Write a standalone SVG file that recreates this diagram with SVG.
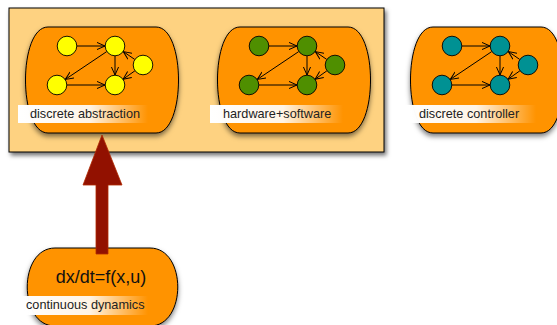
<svg xmlns="http://www.w3.org/2000/svg" xmlns:xlink="http://www.w3.org/1999/xlink" width="557" height="325" viewBox="0 0 557 325">
<style>
.frame{fill:#FED281;stroke:#000;stroke-width:1}
.node{fill:#FF9300;stroke:#000;stroke-width:1}
.dot{stroke:#000;stroke-width:0.9}
.edge{stroke:#000;stroke-width:1;fill:none;marker-end:url(#open)}
.lbl{font-family:"Liberation Sans",Arial,sans-serif;font-size:12.7px;fill:#222}
.big{font-family:"Liberation Sans",Arial,sans-serif;font-size:18px;fill:#111}
</style>
<defs>
<filter id="sh" x="-10%" y="-10%" width="130%" height="140%">
<feDropShadow dx="2" dy="3" stdDeviation="2" flood-color="#000" flood-opacity="0.55"/>
</filter>
<filter id="shn" x="-10%" y="-10%" width="130%" height="140%">
<feDropShadow dx="0" dy="3" stdDeviation="2.5" flood-color="#000" flood-opacity="0.5"/>
</filter>
<linearGradient id="fade" x1="0" y1="0" x2="1" y2="0">
<stop offset="0" stop-color="#fff" stop-opacity="1"/>
<stop offset="0.55" stop-color="#fff" stop-opacity="0.9"/>
<stop offset="1" stop-color="#fff" stop-opacity="0"/>
</linearGradient>
<marker id="open" viewBox="0 0 10 10" refX="9" refY="5" markerWidth="9" markerHeight="9" markerUnits="userSpaceOnUse" orient="auto">
<path d="M0,1 L9,5 L0,9" fill="none" stroke="#000" stroke-width="1.1"/>
</marker>
<path id="blob" d="M48 27 H156 C186 27 186 133 156 133 H48 C18 133 18 27 48 27 Z"/>
<g id="mini">
<line class="edge" x1="77" y1="46" x2="105" y2="46"/>
<line class="edge" x1="115" y1="56" x2="115" y2="75"/>
<line class="edge" x1="106.7" y1="51.6" x2="65.3" y2="79.4"/>
<line class="edge" x1="67" y1="85" x2="105" y2="85"/>
<line class="edge" x1="134.7" y1="59.4" x2="123.3" y2="51.6"/>
<line class="edge" x1="134.9" y1="70.8" x2="123.1" y2="79.2"/>
<circle class="dot" cx="67" cy="46" r="9.8"/>
<circle class="dot" cx="115" cy="46" r="9.8"/>
<circle class="dot" cx="143" cy="65" r="9.8"/>
<circle class="dot" cx="57" cy="85" r="9.8"/>
<circle class="dot" cx="115" cy="85" r="9.8"/>
</g>
</defs>

<g id="system-frame">
<rect class="frame" x="9" y="8" width="375" height="144" filter="url(#sh)"/>
</g>

<g id="discrete-abstraction">
<use xlink:href="#blob" class="node" filter="url(#shn)"/>
<use xlink:href="#mini" fill="#FFFF00"/>
<rect x="18" y="105" width="130" height="18" fill="url(#fade)"/>
<text class="lbl" x="30" y="118">discrete abstraction</text>
</g>

<g id="hardware-software" transform="translate(192,0)">
<use xlink:href="#blob" class="node" filter="url(#shn)"/>
<use xlink:href="#mini" fill="#4F8F00"/>
<rect x="18" y="105" width="133" height="18" fill="url(#fade)"/>
<text class="lbl" x="31" y="118">hardware+software</text>
</g>

<g id="discrete-controller" transform="translate(385,0)">
<use xlink:href="#blob" class="node" filter="url(#shn)"/>
<use xlink:href="#mini" fill="#009193"/>
<rect x="18" y="105" width="133" height="18" fill="url(#fade)"/>
<text class="lbl" x="34" y="118">discrete controller</text>
</g>

<g id="continuous-dynamics">
<path class="node" d="M55 248 H150 C187 248 187 326 150 326 H55 C18 326 18 248 55 248 Z" filter="url(#shn)"/>
<text class="big" x="101" y="283" text-anchor="middle">dx/dt=f(x,u)</text>
<rect x="18" y="296" width="130" height="19" fill="url(#fade)"/>
<text class="lbl" x="26" y="309">continuous dynamics</text>
</g>

<g id="connectors">
<polygon points="102,135 122,185 108,185 108,254 96,254 96,185 83,185" fill="#921100" stroke="#B02A00" stroke-width="0.8"/>
</g>
</svg>
